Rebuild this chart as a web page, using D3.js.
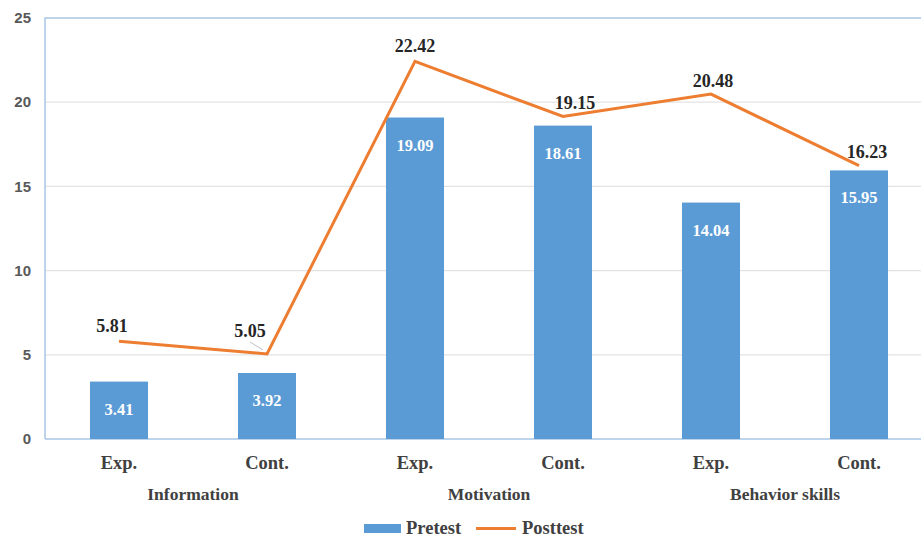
<!DOCTYPE html>
<html>
<head>
<meta charset="utf-8">
<script src="https://cdn.jsdelivr.net/npm/d3@7"></script>
<style>
  body { margin: 0; background: #fff; }
  svg { display: block; }
</style>
</head>
<body>
<svg class="chart" width="921" height="539"></svg>
<script>
const groups = ['Information', 'Motivation', 'Behavior skills']
const subgroups = ['Exp.', 'Cont.']
const pretest = [3.41, 3.92, 19.09, 18.61, 14.04, 15.95]
const posttest = [5.81, 5.05, 22.42, 19.15, 20.48, 16.23]
const yTicks = [0, 5, 10, 15, 20, 25]

// one slot per group/subgroup pair
const slots = []
groups.forEach(g => subgroups.forEach(s => slots.push({group: g, sub: s, key: g + '|' + s})))
slots.forEach((d, i) => { d.pre = pretest[i]; d.post = posttest[i] })

let svg = d3.select("svg.chart")
const margin = {left: 45, top: 18, bottom: 99}
const plotW = 888
const height = +svg.attr("height")

let x = d3.scaleBand()
    .domain(slots.map(d => d.key))
    .range([margin.left, margin.left + plotW])
    .paddingInner(0.608)
    .paddingOuter(0.304)

let y = d3.scaleLinear()
    .domain([0, 25])
    .range([height - margin.bottom - 1, margin.top])

const cx = d => x(d.key) + x.bandwidth() / 2
const serif = "'Liberation Serif', 'Times New Roman', serif"

// gridlines
svg.append("g")
  .selectAll("line")
  .data(yTicks.slice(1, -1))
  .enter().append("line")
    .attr("x1", margin.left).attr("x2", 921)
    .attr("y1", d => y(d)).attr("y2", d => y(d))
    .attr("stroke", "#e3e3e3")
    .attr("stroke-width", 1.2)

// frame (left, top, bottom)
svg.append("path")
    .attr("d", `M${margin.left},${y(0)}V${y(25)}H921M${margin.left},${y(0)}H921`)
    .attr("fill", "none")
    .attr("stroke", "#a9c6e6")
    .attr("stroke-width", 1.5)

// y axis labels
svg.append("g")
  .selectAll("text")
  .data(yTicks)
  .enter().append("text")
    .attr("x", 31)
    .attr("y", d => y(d))
    .attr("dy", "0.35em")
    .attr("text-anchor", "end")
    .attr("font-family", "'Liberation Sans', Arial, sans-serif")
    .attr("font-weight", "bold")
    .attr("font-size", 15)
    .attr("fill", "#595959")
    .text(d => d)

// bars
svg.append("g")
  .selectAll("rect")
  .data(slots)
  .enter().append("rect")
    .attr("x", d => x(d.key))
    .attr("width", x.bandwidth())
    .attr("y", d => y(d.pre))
    .attr("height", d => y(0) - y(d.pre))
    .attr("fill", "#5b9bd5")

svg.append("g")
  .selectAll("text")
  .data(slots)
  .enter().append("text")
    .attr("x", cx)
    .attr("y", d => y(d.pre) + 33)
    .attr("text-anchor", "middle")
    .attr("font-family", serif)
    .attr("font-weight", "bold")
    .attr("font-size", 16.5)
    .attr("fill", "#fff")
    .text(d => d.pre.toFixed(2))

// posttest line
let line = d3.line().x(cx).y(d => y(d.post))
svg.append("path")
    .datum(slots)
    .attr("d", line)
    .attr("fill", "none")
    .attr("stroke", "#ed7d31")
    .attr("stroke-width", 3)
    .attr("stroke-linejoin", "miter")

// leader line for the crowded 5.05 label
const lead = slots[1]
svg.append("line")
    .attr("x1", cx(lead) - 17).attr("y1", y(lead.post) - 12)
    .attr("x2", cx(lead) - 4).attr("y2", y(lead.post) - 4)
    .attr("stroke", "#bfbfbf")
    .attr("stroke-width", 1)

const postOffset = [[-7, -9], [-17, -17], [0, -9], [12, -8], [2, -7], [8, -8]]
svg.append("g")
  .selectAll("text")
  .data(slots)
  .enter().append("text")
    .attr("x", (d, i) => cx(d) + postOffset[i][0])
    .attr("y", (d, i) => y(d.post) + postOffset[i][1])
    .attr("text-anchor", "middle")
    .attr("font-family", serif)
    .attr("font-weight", "bold")
    .attr("font-size", 18)
    .attr("fill", "#262626")
    .text(d => d.post.toFixed(2))

// category labels
svg.append("g")
  .selectAll("text")
  .data(slots)
  .enter().append("text")
    .attr("x", cx)
    .attr("y", 469)
    .attr("text-anchor", "middle")
    .attr("font-family", serif)
    .attr("font-weight", "bold")
    .attr("font-size", 18.5)
    .attr("fill", "#404040")
    .text(d => d.sub)

svg.append("g")
  .selectAll("text")
  .data(groups)
  .enter().append("text")
    .attr("x", g => (x(g + '|Exp.') + x(g + '|Cont.') + x.bandwidth()) / 2)
    .attr("y", 500)
    .attr("text-anchor", "middle")
    .attr("font-family", serif)
    .attr("font-weight", "bold")
    .attr("font-size", 17.5)
    .attr("fill", "#404040")
    .text(g => g)

// legend
let legend = svg.append("g")
    .attr("font-family", serif)
    .attr("font-weight", "bold")
    .attr("font-size", 18.5)
    .attr("fill", "#404040")
legend.append("rect")
    .attr("x", 364).attr("y", 524).attr("width", 37).attr("height", 9)
    .attr("fill", "#5b9bd5")
legend.append("text").attr("x", 406).attr("y", 534).text("Pretest")
legend.append("line")
    .attr("x1", 476).attr("x2", 516).attr("y1", 528.5).attr("y2", 528.5)
    .attr("stroke", "#ed7d31").attr("stroke-width", 3)
legend.append("text").attr("x", 522).attr("y", 534).text("Posttest")
</script>
</body>
</html>
